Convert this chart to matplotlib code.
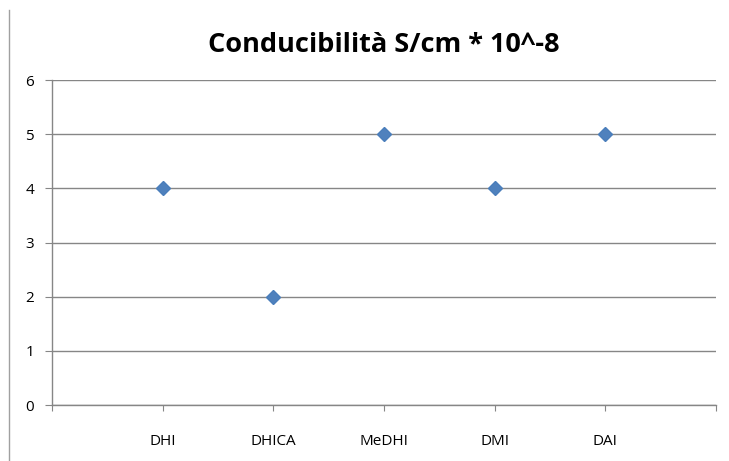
import matplotlib.pyplot as plt
from matplotlib.lines import Line2D

# data
categories = ['DHI', 'DHICA', 'MeDHI', 'DMI', 'DAI']
positions = [1, 2, 3, 4, 5]
conductivity = [4, 2, 5, 4, 5]

grid_col = '#868686'
marker_col = '#4F81BD'

plt.rcParams['font.family'] = ['Open Sans', 'DejaVu Sans']

fig = plt.figure(figsize=(7.29, 4.61), dpi=100)
ax = fig.add_axes([52/729, 1 - 405/461, (716 - 52)/729, (405 - 80)/461])

ax.plot(positions, conductivity, linestyle='none', marker='D', markersize=7,
        markerfacecolor=marker_col, markeredgecolor='#4A7EBB', clip_on=False, zorder=3)

ax.set_xlim(0, 6)
ax.set_ylim(0, 6)
ax.set_yticks(range(0, 7))
ax.set_xticks(range(0, 7))
ax.set_xticklabels([''] + categories + [''])
ax.grid(axis='y', color=grid_col, linewidth=1)
ax.set_axisbelow(True)

for s in ['top', 'right']:
    ax.spines[s].set_visible(False)
for s in ['left', 'bottom']:
    ax.spines[s].set_color(grid_col)
    ax.spines[s].set_linewidth(1)

ax.tick_params(axis='y', length=5, color=grid_col, labelsize=11, pad=8)
ax.tick_params(axis='x', length=4, color=grid_col, labelsize=11, pad=17)

ax.set_title('Conducibilità S/cm * 10^-8', fontsize=19.5, fontweight='bold', pad=20)

# thin border line at the left edge of the chart area
fig.add_artist(Line2D([8.5/729, 8.5/729], [0, 1 - 10/461], color='#A0A0A0', linewidth=1))

fig.savefig('out.png', dpi=100)
